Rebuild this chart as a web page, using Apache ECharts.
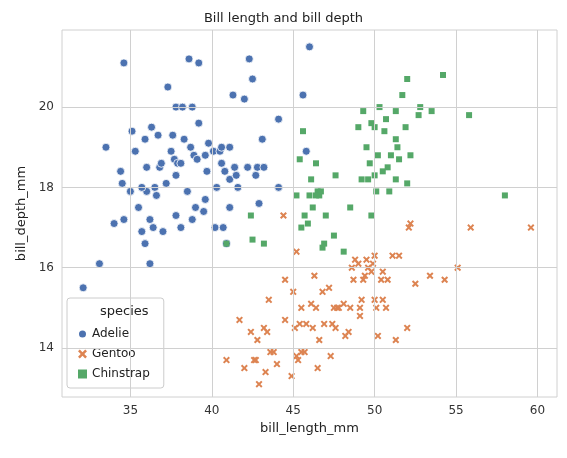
<!DOCTYPE html><html><head><meta charset="utf-8"><script src="https://cdn.jsdelivr.net/npm/echarts@6/dist/echarts.min.js"></script></head><body style="margin:0"><div id="c" style="width:567px;height:458px"></div><script>
const adelie=[[32.1,15.5],[33.1,16.1],[33.5,19],[34,17.1],[34.4,18.4],[34.6,21.1],[34.6,17.2],[35,17.9],[35.1,19.4],[35.3,18.9],[35.5,17.5],[35.7,16.9],[35.9,19.2],[35.9,16.6],[36,18.5],[36.2,17.2],[36.2,16.1],[36.4,17],[36.5,18],[36.6,17.8],[36.7,19.3],[36.8,18.5],[36.9,18.6],[37,16.9],[37.2,18.1],[37.3,20.5],[37.6,19.3],[37.7,18.7],[37.8,20],[37.8,17.3],[37.9,18.6],[38.1,17],[38.1,18.6],[38.2,20],[38.5,17.9],[38.6,21.2],[38.7,19],[38.8,17.2],[38.9,18.8],[39,17.5],[39.2,21.1],[39.5,17.4],[39.6,18.8],[39.7,18.4],[39.8,19.1],[40.1,18.9],[40.2,17],[40.3,18],[40.5,18.9],[40.6,19],[40.8,18.4],[40.9,16.6],[41.1,19],[41.1,18.2],[41.3,20.3],[41.4,18.5],[41.5,18.3],[41.6,18],[42,20.2],[42.2,18.5],[42.3,21.2],[42.5,20.7],[42.7,18.3],[42.8,18.5],[42.9,17.6],[43.1,19.2],[43.2,18.5],[44.1,19.7],[44.1,18],[45.6,20.3],[45.8,18.9],[46,21.5],[36.0,17.9],[37.8,18.3],[39.6,17.7],[40.6,18.6],[41.1,17.5],[39.2,19.6],[38.8,20],[35.7,18],[36.3,19.5],[38.3,19.2],[40.7,17],[34.5,18.1],[37.5,18.9],[39.1,18.7]];
const gentoo=[[40.9,13.7],[41.7,14.7],[42,13.5],[42.6,13.7],[42.7,13.7],[42.8,14.2],[42.9,13.1],[43.2,14.5],[43.3,13.4],[43.4,14.4],[43.5,15.2],[43.6,13.9],[44,13.6],[44.4,17.3],[44.5,14.7],[44.9,13.3],[45,15.4],[45.1,14.5],[45.2,13.8],[45.3,13.7],[45.4,14.6],[45.5,13.9],[45.7,13.9],[45.8,14.6],[46.1,15.1],[46.2,14.5],[46.4,15],[46.5,13.5],[46.6,14.2],[46.8,15.4],[47.2,15.5],[47.3,13.8],[47.4,14.6],[47.5,15],[47.6,14.5],[47.7,15],[48.1,15.1],[48.2,14.3],[48.4,14.4],[48.5,15],[48.7,15.7],[49,16.1],[49.1,15],[49.2,15.2],[49.3,15.7],[49.4,15.8],[49.5,16.2],[49.6,16],[49.8,15.9],[49.9,16.1],[50,15.2],[50.1,15],[50.2,14.3],[50.4,15.7],[50.5,15.9],[50.7,15],[50.8,15.7],[51.1,16.3],[51.3,14.2],[51.5,16.3],[52.1,17],[52.2,17.1],[52.5,15.6],[53.4,15.8],[54.3,15.7],[55.1,16],[55.9,17],[59.6,17],[48.6,16],[46.9,14.6],[44.5,15.7],[45.5,15],[47.8,15],[49.1,14.8],[50.5,15.2],[48.8,16.2],[46.3,15.8],[45.2,16.4],[50,16.3],[52,14.5],[43.8,13.9],[42.4,14.4]];
const chinstrap=[[40.9,16.6],[42.4,17.3],[42.5,16.7],[43.2,16.6],[45.2,17.8],[45.4,18.7],[45.5,17],[45.6,19.4],[45.7,17.3],[45.9,17.1],[46,17.8],[46.1,18.2],[46.2,17.5],[46.4,18.6],[46.5,17.9],[46.6,17.8],[46.7,17.9],[46.8,16.5],[46.9,16.6],[47,17.3],[47.5,16.8],[48.1,16.4],[48.5,17.5],[49,19.5],[49.2,18.2],[49.3,19.9],[49.5,19],[49.6,18.2],[49.7,18.6],[49.8,17.3],[50,19.5],[50.1,17.9],[50.2,18.8],[50.3,20],[50.5,18.4],[50.6,19.4],[50.7,19.7],[50.8,18.5],[50.9,17.9],[51,18.8],[51.3,19.2],[51.4,19],[51.5,18.7],[51.7,20.3],[51.9,19.5],[52,18.1],[52.2,18.8],[52.7,19.8],[52.8,20],[53.5,19.9],[54.2,20.8],[55.8,19.8],[58,17.8],[52,20.7],[51.3,18.2],[50,18.3],[49.8,19.6],[47.6,18.3],[46.4,17.8],[51.3,19.9]];
const xTicks=[35,40,45,50,55,60], yTicks=[14,16,18,20];
const X='path://M2,0 L5,3 L8,0 L10,2 L7,5 L10,8 L8,10 L5,7 L2,10 L0,8 L3,5 L0,2 Z';
const F='DejaVu Sans';
const near=(v,arr)=>arr.find(t=>Math.abs(v-t)<1e-6);
const ax=(name,min,max,ticks,gap)=>({type:'value',min,max,interval:0.02,name,nameLocation:'middle',nameGap:gap,
 nameTextStyle:{fontFamily:F,fontSize:13,color:'#222'},
 axisLabel:{fontFamily:F,fontSize:12,color:'#333',interval:0,hideOverlap:false,showMinLabel:false,showMaxLabel:false,
  formatter:v=>{const t=near(v,ticks);return t===undefined?'':String(t);}},
 axisLine:{show:false},axisTick:{show:false},splitLine:{show:false}});
const c=echarts.init(document.getElementById('c'));
const mk=(name,data,symbol,color,size,border)=>({name,type:'scatter',data,symbol,symbolSize:size,itemStyle:{color,borderColor:border?'#fff':null,borderWidth:border?0.8:0,opacity:1}});
c.setOption({animation:false,backgroundColor:'#fff',
 title:{text:'Bill length and bill depth',left:'center',top:7,textStyle:{fontFamily:F,fontSize:13,fontWeight:'normal',color:'#222'}},
 grid:{left:62,right:10,top:30,bottom:61,show:true,borderColor:'#d0d0d0',borderWidth:1},
 xAxis:ax('bill_length_mm',30.8,61.2,xTicks,25),yAxis:ax('bill_depth_mm',12.78,21.92,yTicks,34),
 legend:{orient:'vertical',left:67,top:298,padding:[30,14,8,10],itemGap:8,borderColor:'#ccc',borderWidth:1,borderRadius:3,backgroundColor:'rgba(255,255,255,0.8)',
  textStyle:{fontFamily:F,fontSize:12,color:'#222'},itemWidth:9,itemHeight:9,
  data:[{name:'Adelie',icon:'circle'},{name:'Gentoo',icon:X},{name:'Chinstrap',icon:'rect'}]},
 graphic:[{type:'text',left:100,top:305,z:100,style:{text:'species',font:'13px DejaVu Sans',fill:'#222'}}],
 series:[
  {type:'line',data:[],silent:true,markLine:{symbol:'none',silent:true,label:{show:false},lineStyle:{color:'#d0d0d0',type:'solid',width:1},
   data:xTicks.map(v=>({xAxis:v})).concat(yTicks.map(v=>({yAxis:v})))},z:0},
  mk('Adelie',adelie,'circle','#4c72b0',8,true),
  mk('Gentoo',gentoo,X,'#dd8452',7,false),
  mk('Chinstrap',chinstrap,'rect','#55a868',6,false)]});
</script></body></html>
